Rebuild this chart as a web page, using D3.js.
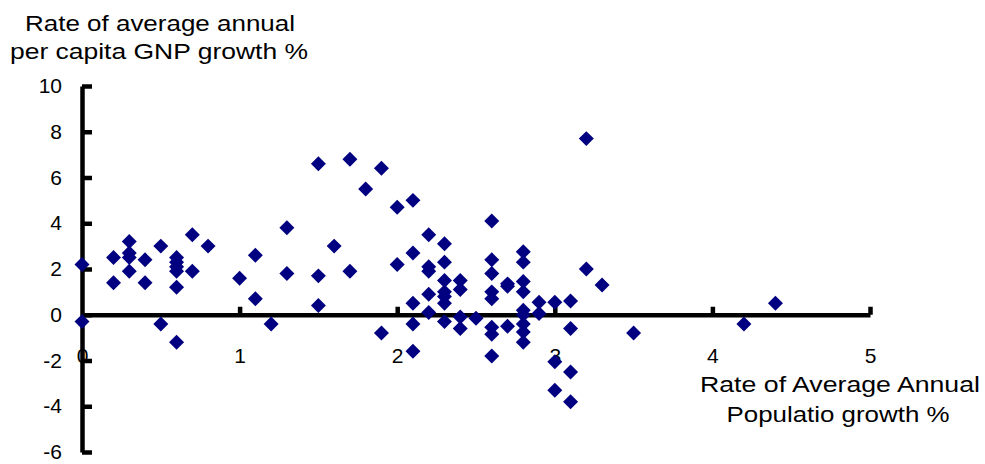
<!DOCTYPE html>
<html>
<head>
<meta charset="utf-8">
<script src="https://cdn.jsdelivr.net/npm/d3@7"></script>
<style>
  body { margin: 0; background: #fff; }
  svg { display: block; font-family: "Liberation Sans", Arial, sans-serif; }
  .axis path, .axis line { stroke: #000; stroke-width: 4.5; }
  .axis text { font-size: 21px; fill: #000; font-family: "Liberation Sans", Arial, sans-serif; }
  .title { font-size: 22px; fill: #000; }
</style>
</head>
<body>
<svg id="chart" width="985" height="464"></svg>
<script>
// Rate of average annual population growth %
const popGrowth = [
  0, 0,
  0.2, 0.2,
  0.3, 0.3, 0.3, 0.3,
  0.4, 0.4,
  0.5, 0.5,
  0.6, 0.6, 0.6, 0.6, 0.6, 0.6,
  0.7, 0.7,
  0.8,
  1.0,
  1.1, 1.1,
  1.2,
  1.3, 1.3,
  1.5, 1.5, 1.5,
  1.6,
  1.7, 1.7,
  1.8,
  1.9, 1.9,
  2.0, 2.0,
  2.1, 2.1, 2.1, 2.1, 2.1,
  2.2, 2.2, 2.2, 2.2, 2.2,
  2.3, 2.3, 2.3, 2.3, 2.3, 2.3, 2.3,
  2.4, 2.4, 2.4, 2.4,
  2.5,
  2.6, 2.6, 2.6, 2.6, 2.6, 2.6, 2.6, 2.6,
  2.7, 2.7, 2.7,
  2.8, 2.8, 2.8, 2.8, 2.8, 2.8, 2.8, 2.8, 2.8,
  2.9, 2.9,
  3.0, 3.0, 3.0,
  3.1, 3.1, 3.1, 3.1,
  3.2, 3.2,
  3.3,
  3.5,
  4.2,
  4.4
];
// Rate of average annual per capita GNP growth %
const gnpGrowth = [
  2.2, -0.3,
  2.5, 1.4,
  3.2, 2.7, 2.5, 1.9,
  2.4, 1.4,
  3.0, -0.4,
  2.5, 2.3, 2.1, 1.9, 1.2, -1.2,
  3.5, 1.9,
  3.0,
  1.6,
  2.6, 0.7,
  -0.4,
  3.8, 1.8,
  6.6, 1.7, 0.4,
  3.0,
  6.8, 1.9,
  5.5,
  6.4, -0.8,
  4.7, 2.2,
  5.0, 2.7, 0.5, -0.4, -1.6,
  3.5, 2.1, 1.9, 0.9, 0.1,
  3.1, 2.3, 1.5, 1.0, 0.8, 0.5, -0.3,
  1.5, 1.1, -0.1, -0.6,
  -0.15,
  4.1, 2.4, 1.8, 1.0, 0.7, -0.55, -0.85, -1.8,
  1.35, 1.25, -0.5,
  2.75, 2.3, 1.45, 1.0, 0.2, 0.0, -0.4, -0.75, -1.2,
  0.55, 0.05,
  0.55, -2.05, -3.3,
  0.6, -0.6, -2.5, -3.8,
  7.7, 2.0,
  1.3,
  -0.8,
  -0.4,
  0.5
];
const xTicks = [0, 1, 2, 3, 4, 5];
const yTicks = [-6, -4, -2, 0, 2, 4, 6, 8, 10];

const svg = d3.select('#chart');
const x = d3.scaleLinear().domain([0, 5]).range([82, 870]);
const y = d3.scaleLinear().domain([-6, 10]).range([452, 86]);
const fmt = d => String(d);

// Y axis (ticks point inward)
svg.append('g')
  .attr('class', 'axis')
  .attr('transform', `translate(${x(0)},0)`)
  .call(d3.axisLeft(y).tickValues(yTicks).tickFormat(fmt)
    .tickSizeInner(-10).tickSizeOuter(0).tickPadding(20));

// X axis crossing at y = 0, ticks pointing up
svg.append('g')
  .attr('class', 'axis')
  .attr('transform', `translate(0,${y(0)})`)
  .call(d3.axisBottom(x).tickValues(xTicks).tickFormat(fmt)
    .tickSizeInner(-8).tickSizeOuter(0).tickPadding(33))
  .call(g => g.selectAll('.tick').filter(d => d === 0).select('line').remove());

// Points
const diamond = d3.symbol().type(d3.symbolSquare).size(112);
svg.append('g')
  .selectAll('path')
  .data(popGrowth.map((p, i) => [p, gnpGrowth[i]]))
  .join('path')
  .attr('d', diamond)
  .attr('transform', d => `translate(${x(d[0])},${y(d[1])}) rotate(45)`)
  .attr('fill', '#000080');

// Axis titles (stretched to the widths in the picture)
function titleLine(sel, text, cx, baseline, width) {
  sel.append('text')
    .attr('class', 'title')
    .attr('text-anchor', 'middle')
    .attr('x', cx)
    .attr('y', baseline)
    .attr('textLength', width)
    .attr('lengthAdjust', 'spacingAndGlyphs')
    .text(text);
}
titleLine(svg, 'Rate of average annual', 160, 31, 270);
titleLine(svg, 'per capita GNP growth %', 159, 59, 298);
titleLine(svg, 'Rate of Average Annual', 840, 392, 280);
titleLine(svg, 'Populatio growth %', 838, 422, 223);
</script>
</body>
</html>
